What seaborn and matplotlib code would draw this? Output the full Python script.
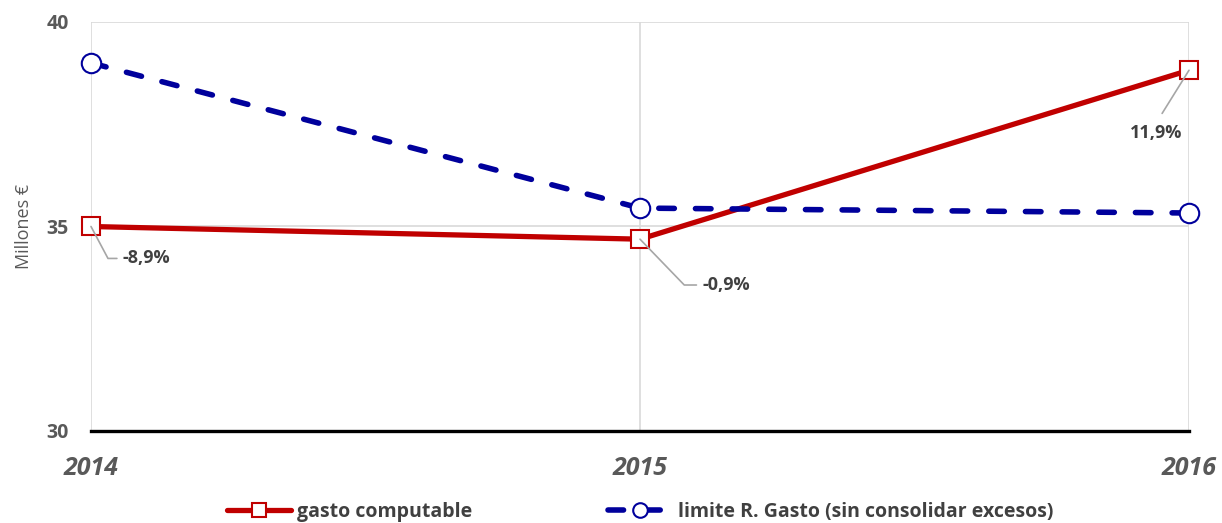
import matplotlib
matplotlib.use("Agg")
import matplotlib.pyplot as plt
import seaborn as sns
import pandas as pd

years = [2014, 2015, 2016]
gasto = [35.0, 34.69, 38.82]
limite = [39.0, 35.45, 35.33]
pct_labels = ["-8,9%", "-0,9%", "11,9%"]
series_names = ["gasto computable", "limite R. Gasto (sin consolidar excesos)"]
y_ticks = [30, 35, 40]

RED = "#C00000"
BLUE = "#00009C"
TXT = "#595959"

sns.set_theme(style="white")
plt.rcParams["font.family"] = ["Open Sans", "DejaVu Sans"]

fig = plt.figure(figsize=(12.22, 5.23), dpi=100)
ax = fig.add_axes([91/1222, 92/523, (1189-91)/1222, (431-22)/523])

df = pd.DataFrame({"year": years, "gasto": gasto, "limite": limite})

sns.lineplot(data=df, x="year", y="gasto", ax=ax, color=RED, lw=3.8,
             marker="s", markersize=13, markerfacecolor="white",
             markeredgecolor=RED, markeredgewidth=1.5, label=series_names[0],
             clip_on=False, zorder=3)
sns.lineplot(data=df, x="year", y="limite", ax=ax, color=BLUE, lw=4,
             linestyle=(0, (2.8, 3.8)), dash_capstyle="round",
             marker="o", markersize=14, markerfacecolor="white",
             markeredgecolor=BLUE, markeredgewidth=1.5, label=series_names[1],
             clip_on=False, zorder=4)

ax.set_xlim(2014, 2016)
ax.set_ylim(30, 40)
ax.set_xticks(years)
ax.set_xticklabels([str(y) for y in years], fontsize=18, fontweight="bold",
                   fontstyle="italic", color=TXT)
ax.set_yticks(y_ticks)
ax.set_yticklabels([str(v) for v in y_ticks], fontsize=14, fontweight="bold", color=TXT)
ax.tick_params(axis="y", length=0, pad=16)
ax.tick_params(axis="x", length=0, pad=18)
ax.set_xlabel("")
ax.set_ylabel("Millones €", fontsize=13, color=TXT, labelpad=10)

ax.grid(True, color="#D9D9D9", lw=1.2)
for s in ["top", "left", "right"]:
    ax.spines[s].set_visible(False)
ax.spines["bottom"].set_color("black")
ax.spines["bottom"].set_linewidth(2.4)
ax.spines["bottom"].set_zorder(5)

leader = dict(arrowstyle="-", color="#A6A6A6", lw=1.2, shrinkA=2, shrinkB=0)
ax.annotate(pct_labels[0], xy=(years[0], gasto[0]), xytext=(23, -23),
            textcoords="offset points", ha="left", va="center", fontsize=13,
            fontweight="bold", color="#404040", zorder=6,
            arrowprops=dict(leader, connectionstyle="angle,angleA=0,angleB=-62"))
ax.annotate(pct_labels[1], xy=(years[1], gasto[1]), xytext=(45, -33),
            textcoords="offset points", ha="left", va="center", fontsize=13,
            fontweight="bold", color="#404040", zorder=6,
            arrowprops=dict(leader, connectionstyle="angle,angleA=0,angleB=-46"))
ax.annotate(pct_labels[2], xy=(years[2], gasto[2]), xytext=(-24, -45),
            textcoords="offset points", ha="center", va="center", fontsize=13,
            fontweight="bold", color="#404040", zorder=6,
            arrowprops=dict(leader, relpos=(0.5, 1.0), shrinkA=6))

handles, labels = ax.get_legend_handles_labels()
if ax.get_legend() is not None:
    ax.get_legend().remove()
leg = fig.legend(handles, labels, loc="center", bbox_to_anchor=(0.524, 0.021),
                 ncol=2, frameon=False, fontsize=14, handlelength=3.3,
                 handletextpad=0.3, columnspacing=7.0, markerscale=0.75)
for t in leg.get_texts():
    t.set_color("#404040")
    t.set_fontweight("bold")

fig.savefig("out.png", dpi=100)
